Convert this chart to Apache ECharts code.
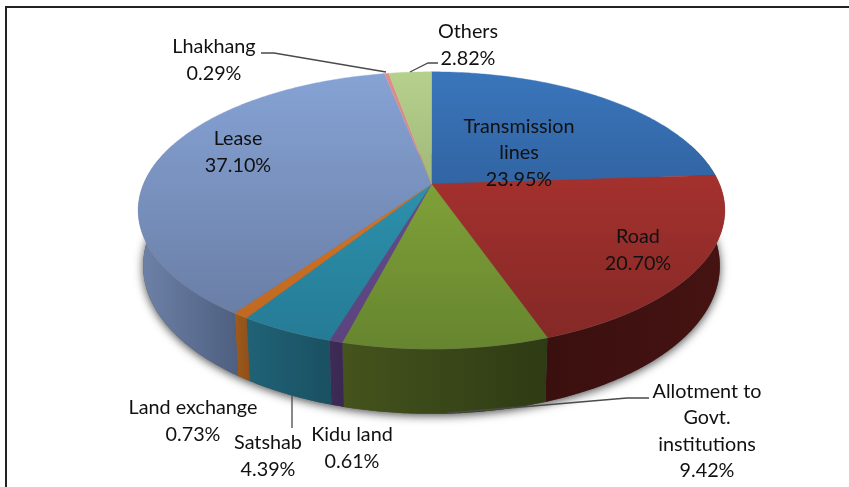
<!DOCTYPE html>
<html><head><meta charset="utf-8">
<style>html,body{margin:0;padding:0;background:#fff}#c{width:849px;height:487px}</style>
<script src="https://cdn.jsdelivr.net/npm/echarts@6/dist/echarts.min.js"></script>
</head><body><div id="c"></div>
<script>
var categories = ['Transmission lines','Road','Allotment to Govt. institutions','Kidu land','Satshab','Land exchange','Lease','Lhakhang','Others'];
var values = [23.95,20.70,9.42,0.61,4.39,0.73,37.10,0.29,2.82];
var labelLines = [['Transmission','lines'],['Road'],['Allotment to','Govt.','institutions'],['Kidu land'],['Satshab'],['Land exchange'],['Lease'],['Lhakhang'],['Others']];
var labelCentres = [[519,153],[638,250],[707,431],[352,448],[268,456],[193,421],[238,152],[214,60],[468,45]];
var topColors = [['#3a75bb','#244d80'],['#b83632','#822826'],['#90b33e','#66852f'],['#6a5193','#5a437e'],['#31a0bd','#257a94'],['#e07f2a','#bd6620'],['#86a3d5','#66799f'],['#dc8f8d','#b87a78'],['#b6d18c','#80905f']];
var wallColors = [['#4a1513','#5c1c1a'],['#3a100f','#451312'],['#45531d','#2e3b14'],['#3e2c58','#3a2852'],['#206277','#1a5062'],['#a05a1c','#8e5018'],['#6e82a8','#4e5f80'],['#8a5a58','#8a5a58'],['#6a7a48','#6a7a48']];
var leaderLines = [
  [[261,53],[274,53],[386,72]],
  [[410,72],[428,63],[438,63]],
  [[292,395],[292,428]],
  [[447,413],[533,406],[627,398],[649,398]]
];

var CX=431.5, CY=184, R=288, B=133.5, K=0.19, DEPTH=65;
var total = values.reduce(function(a,b){return a+b;},0);
function proj(th){
  var u=Math.sin(th), v=-Math.cos(th), w=1-K*v;
  return [CX+R*u/w, CY+B*v/w];
}
function projLow(th){
  var p=proj(th);
  return [CX+(p[0]-CX)*0.983, p[1]+DEPTH*(0.82+0.18*Math.max(0,-Math.cos(th)))];
}
function arc(a0,a1,fn){
  var pts=[], n=Math.max(2,Math.ceil(Math.abs(a1-a0)/0.01));
  for(var i=0;i<=n;i++) pts.push(fn(a0+(a1-a0)*i/n));
  return pts;
}
function range(i){
  var s=0; for(var j=0;j<i;j++) s+=values[j];
  return [s/total*2*Math.PI,(s+values[i])/total*2*Math.PI];
}
function grad(c,x,y,x2,y2){
  return {type:'linear',x:x,y:y,x2:x2,y2:y2,global:true,colorStops:[{offset:0,color:c[0]},{offset:1,color:c[1]}]};
}
function renderShadow(p,api){
  if(p.dataIndex!==0) return null;
  var pts=arc(Math.PI*0.25,Math.PI*1.75,projLow);
  return {type:'polygon',shape:{points:pts},style:{fill:'#555',shadowBlur:10,shadowColor:'rgba(0,0,0,0.7)',shadowOffsetX:0,shadowOffsetY:2},silent:true};
}
function renderWall(p,api){
  var r=range(p.dataIndex);
  var a0=Math.max(r[0],Math.PI*0.4), a1=Math.min(r[1],Math.PI*1.6);
  if(a1<=a0) return null;
  var t=arc(a0,a1,proj), b=arc(a0,a1,projLow).reverse();
  var xs=t.concat(b).map(function(q){return q[0];});
  var minX=Math.min.apply(null,xs), maxX=Math.max.apply(null,xs);
  var c=wallColors[p.dataIndex];
  return {type:'group',children:[
    {type:'polygon',shape:{points:t.concat(b)},style:{fill:grad(c,minX,0,maxX,0),lineWidth:0}},
    {type:'polyline',shape:{points:t},style:{stroke:'rgba(255,255,255,0.22)',lineWidth:1,fill:null}}
  ]};
}
function renderTop(p,api){
  var r=range(p.dataIndex);
  var pts=[[CX,CY]].concat(arc(r[0],r[1],proj));
  var c=topColors[p.dataIndex];
  return {type:'polygon',shape:{points:pts},style:{fill:grad(c,0,72,0,349),stroke:grad(c,0,72,0,349),lineWidth:0.4}};
}
var seriesData = values.map(function(v,i){return {name:categories[i],value:v};});
var textEls=[];
categories.forEach(function(n,i){
  var lines=labelLines[i].concat([values[i].toFixed(2)+'%']);
  textEls.push({type:'text',x:labelCentres[i][0],y:labelCentres[i][1],z:20,silent:true,
    style:{text:lines.join('\n'),fill:'#111',font:'19.8px Lato, Carlito, sans-serif',align:'center',verticalAlign:'middle',lineHeight:26.5}});
});
var lineEls=leaderLines.map(function(pts){
  return {type:'polyline',z:15,silent:true,shape:{points:pts},style:{stroke:'#4a4a4a',lineWidth:1.3,fill:null}};
});
var frame={type:'rect',z:0,silent:true,shape:{x:6,y:7,width:900,height:540},style:{fill:'#fff',stroke:'#222',lineWidth:2}};
var chart=echarts.init(document.getElementById('c'),null,{renderer:'canvas'});
chart.setOption({
  animation:false,
  graphic:{elements:[frame].concat(lineEls,textEls)},
  series:[
    {type:'custom',coordinateSystem:'none',z:3,silent:true,renderItem:renderShadow,data:seriesData},
    {type:'custom',coordinateSystem:'none',z:4,silent:true,renderItem:renderWall,data:seriesData},
    {type:'custom',coordinateSystem:'none',z:5,silent:true,renderItem:renderTop,data:seriesData}
  ]
});
</script></body></html>
